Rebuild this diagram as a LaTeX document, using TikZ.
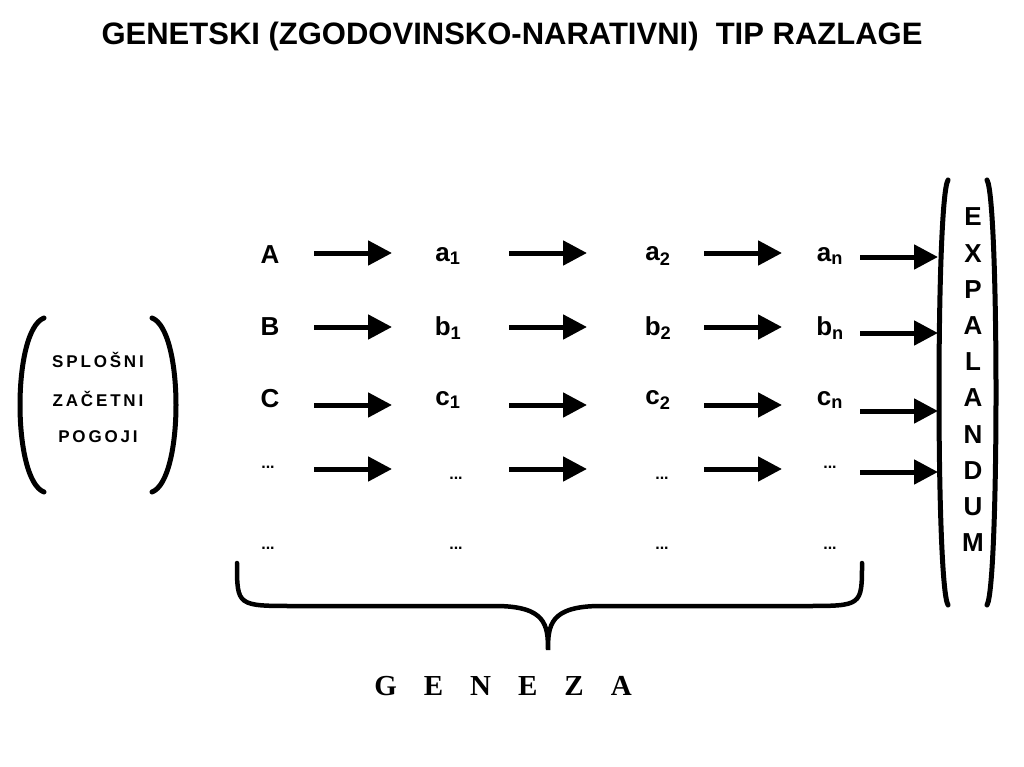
\documentclass[tikz,border=0pt]{standalone}
\usepackage{fontspec}
\setmainfont{Liberation Sans}[BoldFont={Liberation Sans Bold}]
\newfontfamily\serifb{Liberation Serif}[BoldFont={Liberation Serif Bold}]
\usetikzlibrary{arrows.meta}
\tikzset{
 lbl/.style={font=\bfseries\fontsize{26}{28}\selectfont, inner sep=0pt},
 arr/.style={line width=5pt, -{Triangle[length=24pt,width=24pt]}},
 par/.style={line width=5pt, line cap=round},
 small/.style={font=\bfseries\fontsize{17}{19}\selectfont, inner sep=0pt},
}
\newcommand{\dd}{\fontsize{16}{16}\selectfont ...}
\begin{document}
\begin{tikzpicture}[x=1pt,y=-1pt]
\useasboundingbox (0,0) rectangle (1024,767);
\node[font=\bfseries\fontsize{31}{33}\selectfont] (t) at (512,36) {GENETSKI (ZGODOVINSKO-NARATIVNI)\ \ TIP RAZLAGE};
% labels
\foreach \n/\x/\y/\t in {A/270/255/A, B/270/327/B, C/270/399/C, D/268/467/\dd, E/268/548/\dd,
  a1/448/256/a\textsubscript{1}, b1/448/328/b\textsubscript{1}, c1/448/400/c\textsubscript{1}, d1/456/478/\dd, e1/456/548/\dd,
  a2/658/256/a\textsubscript{2}, b2/658/328/b\textsubscript{2}, c2/658/400/c\textsubscript{2}, d2/662/478/\dd, e2/662/548/\dd,
  an/830/256/a\textsubscript{n}, bn/830/328/b\textsubscript{n}, cn/830/400/c\textsubscript{n}, dn/830/467/\dd, en/830/548/\dd}
  \node[lbl] (\n) at (\x,\y) {\t};
% arrows
\foreach \y/\z in {253/257,327/333,405/411,469/472}{
  \draw[arr] (314,\y) -- (392,\y);
  \draw[arr] (509,\y) -- (587,\y);
  \draw[arr] (704,\y) -- (782,\y);
  \draw[arr] (860,\z) -- (938,\z);
}
% left parentheses
\draw[par] (44,318) .. controls (12,330) and (12,480) .. (44,492);
\draw[par] (152,318) .. controls (184,330) and (184,480) .. (152,492);
\node[small] (s1) at (98,360) {S\,P\,L\,O\,Š\,N\,I};
\node[small] (s2) at (98,399) {Z\,A\,Č\,E\,T\,N\,I};
\node[small] (s3) at (98,437) {P\,O\,G\,O\,J\,I};
% right bracket
\draw[par] (948,180) .. controls (936,200) and (936,585) .. (948,605);
\draw[par] (987,180) .. controls (999,200) and (999,585) .. (987,605);
\foreach \l [count=\i from 0] in {E,X,P,A,L,A,N,D,U,M}
  \node[lbl] (x\i) at (973,217+36.2*\i) {\l};
% brace
\draw[line width=4.5pt, line cap=round] (237,563) .. controls (237,606) .. (295,606) -- (495,606) .. controls (546,606) and (548,625) .. (548,650)
  .. controls (548,625) and (550,606) .. (601,606) -- (805,606) .. controls (862,606) .. (862,563);
\node[font=\serifb\bfseries\fontsize{29}{31}\selectfont] (g) at (503,686) {G\hspace{27pt}E\hspace{27pt}N\hspace{27pt}E\hspace{27pt}Z\hspace{27pt}A};
\end{tikzpicture}
\end{document}
